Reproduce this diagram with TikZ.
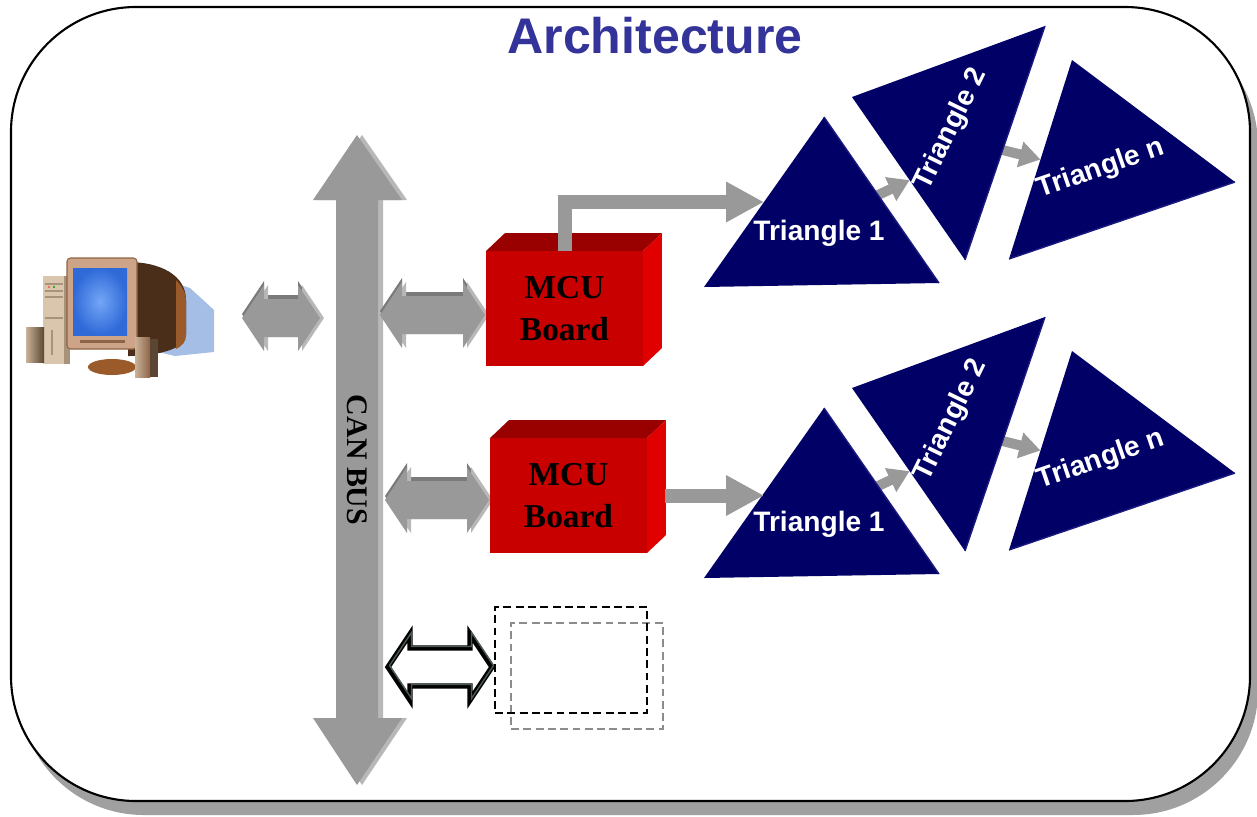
\documentclass[tikz,border=0pt]{standalone}
\usepackage{fontspec}
\setmainfont{Liberation Sans}
\newfontfamily\boardfont{Liberation Serif}
\usetikzlibrary{arrows.meta,calc,positioning}

\definecolor{titleblue}{HTML}{333399}
\definecolor{trinavy}{HTML}{000066}
\definecolor{triedge}{HTML}{1A1A80}
\definecolor{busgray}{HTML}{999999}
\definecolor{buslight}{HTML}{B8B8B8}
\definecolor{busdark}{HTML}{7A7A7A}
\definecolor{mcufront}{HTML}{C80000}
\definecolor{mcutop}{HTML}{990000}
\definecolor{mcuside}{HTML}{E00000}
\definecolor{frameshadow}{HTML}{A0A0A0}
\definecolor{slate}{HTML}{4A5A5A}
\definecolor{pcshadow}{HTML}{A4BEE6}
\definecolor{tower}{HTML}{D9C6AC}
\definecolor{towerside}{HTML}{A8927A}
\definecolor{bezel}{HTML}{CDA487}
\definecolor{bezeldark}{HTML}{8E6446}
\definecolor{crtback}{HTML}{4B2E1A}
\definecolor{crtside}{HTML}{9A5A2A}
\definecolor{screenblue}{HTML}{2F6AD8}
\definecolor{screenlight}{HTML}{74A6F6}
\definecolor{speaker}{HTML}{C9B299}
\definecolor{speakerdark}{HTML}{5A4632}

% block double arrow: style, left tip x, right tip x, y
\newcommand{\blockarrow}[4]{%
  \path[#1] (#2,#4) -- ++(22,-33) -- ++(0,14) -- (#3-22,#4-19) -- ++(0,-14)
    -- (#3,#4) -- ++(-22,33) -- ++(0,-14) -- (#2+22,#4+19) -- ++(0,14) -- cycle;}
% same, with the raised look
\newcommand{\grayarrow}[3]{%
  \blockarrow{fill=busdark}{#1}{#2}{#3-4}
  \blockarrow{fill=buslight}{#1+4}{#2+4}{#3}
  \blockarrow{fill=busgray}{#1}{#2}{#3}}

\begin{document}
\begin{tikzpicture}[x=0.02cm, y=-0.02cm,
    mcubox/.style={fill=mcufront, minimum width=3.14cm, minimum height=2.3cm,
      inner sep=0pt, outer sep=0pt, align=center,
      font=\boardfont\bfseries\fontsize{19}{24}\selectfont},
    trilabel/.style={text=white, inner sep=0pt,
      font=\bfseries\fontsize{16}{19}\selectfont},
    flow/.style={draw=busgray, line width=0.28cm, line join=miter,
      -{Triangle[length=0.76cm, width=0.76cm]}},
    hop/.style={draw=busgray, line width=0.2cm,
      -{Triangle[length=0.42cm, width=0.5cm]}},
    sparebox/.style={draw, line width=1pt, dash pattern=on 4.5pt off 2.5pt,
      minimum width=3.04cm, minimum height=2.12cm, inner sep=0pt}]
    \useasboundingbox (0,0) rectangle (1257,816);

    % frame
    \fill[frameshadow, rounded corners=2.5cm] (19,21) rectangle (1258,815);
    \draw[fill=white, line width=1.2pt, rounded corners=2.5cm] (11,7) rectangle (1250,801);
    \node (title) [font=\bfseries\fontsize{28.5}{34}\selectfont, text=titleblue, anchor=base]
        at (655,53) {Architecture};

    % computer
    \coordinate (pc) at (105,315);
    \fill[pcshadow] (150,275) -- (190,288) -- (214,310) -- (214,352) -- (175,356) -- (150,350) -- cycle;
    \fill[tower] (43,276) rectangle (70,364);
    \fill[towerside] (64,276) rectangle (70,364);
    \draw[towerside, line width=0.6pt] (45,284) -- (63,284) (45,291) -- (63,291)
        (45,297) -- (63,297) (45,318) -- (63,318) (52,330) -- (52,355);
    \fill[red!70] (49,287) circle (1.2);
    \fill[green!60!black] (54,287) circle (1.2);
    \fill[crtback] (128,262) .. controls (160,262) and (186,275) .. (186,300)
        -- (186,335) .. controls (186,348) and (160,356) .. (128,356) -- cycle;
    \fill[crtside] (176,280) .. controls (184,288) and (186,295) .. (186,300)
        -- (186,335) .. controls (186,342) and (182,346) .. (176,349) -- cycle;
    \fill[crtside] (112,367) ellipse (24 and 8);
    \fill[bezel, rounded corners=2pt] (67,258) rectangle (137,349);
    \draw[bezeldark, line width=0.6pt, rounded corners=2pt] (67,258) rectangle (137,349);
    \shade[inner color=screenlight, outer color=screenblue] (73,268) rectangle (127,335);
    \fill[bezeldark] (80,340) rectangle (125,343);
    \shade[left color=speaker, right color=speakerdark] (26,327) rectangle (44,362);
    \shade[left color=speaker, right color=bezeldark] (135,337) rectangle (150,377);
    \fill[speakerdark] (150,339) rectangle (158,377);

    % bus
    \fill[buslight] (362,135) -- (407,200) -- (383,200) -- (383,718) -- (407,718) -- (362,785)
        -- (318,718) -- (341,718) -- (341,200) -- (318,200) -- cycle;
    \fill[busgray] (357,135) -- (402,200) -- (378,200) -- (378,718) -- (402,718) -- (357,785)
        -- (313,718) -- (336,718) -- (336,200) -- (313,200) -- cycle;
    \node (canbus) [rotate=-90, font=\boardfont\bfseries\fontsize{17}{20}\selectfont]
        at (357,460) {CAN BUS};

    \grayarrow{242}{320}{318}
    \grayarrow{380}{485}{315}
    \grayarrow{385}{489}{500}
    \blockarrow{draw=black, line width=3pt, fill=white}{388}{492}{667}
    \blockarrow{draw=slate, line width=0.8pt}{389.5}{493.5}{665.5}

    % boards
    \node (mcu1) [mcubox] at (564.5,308.5) {MCU\\Board};
    \node (mcu2) [mcubox] at (568.5,495.5) {MCU\\Board};
    \foreach \b in {mcu1, mcu2} {
        \fill[mcutop] (\b.north west) -- ++(19,-18) -- ++(157,0) -- (\b.north east) -- cycle;
        \fill[mcuside] (\b.north east) -- ++(19,-18) -- ++(0,115) -- (\b.south east) -- cycle;
    }

    % triangle chains
    \foreach \g/\dy in {1/0, 2/291} {
        \coordinate (t1a-\g) at (824,117+\dy);
        \coordinate (t1b-\g) at (939,283+\dy);
        \coordinate (t1c-\g) at (704,287+\dy);
        \coordinate (t2a-\g) at (852,97+\dy);
        \coordinate (t2b-\g) at (1045,26+\dy);
        \coordinate (t2c-\g) at (965,260+\dy);
        \coordinate (tna-\g) at (1072,60+\dy);
        \coordinate (tnb-\g) at (1235,182+\dy);
        \coordinate (tnc-\g) at (1009,259+\dy);
        \coordinate (t1in-\g) at ($(t1a-\g)!0.5!(t1c-\g)$);
        \draw[hop] ($(t1a-\g)!0.47!(t1b-\g)$) -- ($(t2a-\g)!0.51!(t2c-\g)$);
        \draw[hop] ($(t2b-\g)!0.53!(t2c-\g)$) -- ($(tna-\g)!0.5!(tnc-\g)$);
        \fill[trinavy] (t1a-\g) -- (t1b-\g) -- (t1c-\g) -- cycle;
        \fill[trinavy] (t2a-\g) -- (t2b-\g) -- (t2c-\g) -- cycle;
        \fill[trinavy] (tna-\g) -- (tnb-\g) -- (tnc-\g) -- cycle;
        \draw[triedge, line width=0.8pt] (t1a-\g) -- (t1b-\g) (t2b-\g) -- (t2c-\g) (tnb-\g) -- (tnc-\g);
        \node (lab1-\g) [trilabel, anchor=base] at (819,240+\dy) {Triangle 1};
        \node (lab2-\g) [trilabel, rotate=64] at (951,129+\dy) {Triangle 2};
        \node (labn-\g) [trilabel, rotate=19] at (1101,169+\dy) {Triangle n};
    }

    \draw[flow] (mcu1.north) |- (t1in-1);
    \coordinate (mcu2side) at ($(mcu2.east)+(18,0)$);
    \draw[flow] (mcu2side) -- (mcu2side -| t1in-2);

    % free slot
    \node (spareback) [sparebox, draw=black!45] at (587,676) {};
    \node (spare) [sparebox] at (571,660) {};
\end{tikzpicture}
\end{document}
